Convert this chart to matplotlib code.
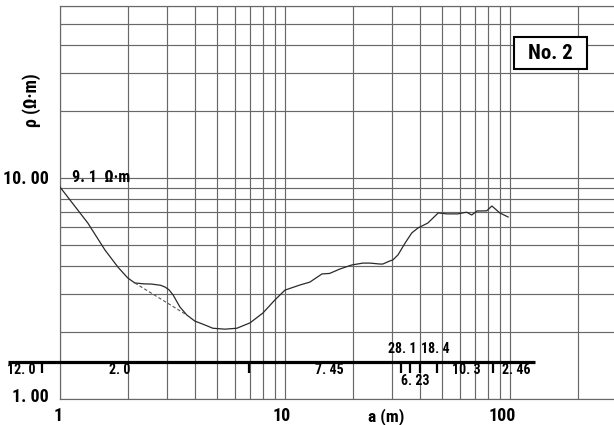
import matplotlib
matplotlib.use("Agg")
import matplotlib.pyplot as plt
import matplotlib.transforms as mtransforms
from matplotlib.ticker import LogLocator, NullFormatter, FixedLocator, FixedFormatter
from matplotlib.patches import Rectangle

# Apparent resistivity sounding curve (electrode spacing a in m, rho in ohm-m)
spacing_a = [1.00, 1.33, 1.585, 1.81, 2.00, 2.15, 2.35, 2.56, 2.80, 2.93, 3.05,
             3.18, 3.41, 3.66, 3.98, 4.32, 4.78, 5.41, 6.11, 6.99, 7.98, 9.0,
             10.0, 11.66, 12.9, 14.6, 15.8, 17.5, 19.8, 22.2, 23.9, 26.4, 27.2,
             29.2, 30.2, 31.8, 34.2, 36.6, 39.0, 43.1, 45.5, 48.0, 52.4, 58.5,
             64.2, 67.6, 71.3, 78.8, 83.1, 90.1, 98.1]
rho_app = [9.1, 6.25, 4.72, 3.95, 3.53, 3.35, 3.32, 3.31, 3.27, 3.21, 3.12,
           2.96, 2.61, 2.40, 2.25, 2.18, 2.09, 2.07, 2.09, 2.21, 2.45, 2.80,
           3.11, 3.28, 3.38, 3.68, 3.70, 3.87, 4.04, 4.12, 4.12, 4.08, 4.08,
           4.21, 4.26, 4.49, 5.08, 5.64, 5.94, 6.25, 6.59, 6.95, 6.88, 6.88,
           7.00, 6.80, 7.09, 7.10, 7.47, 6.95, 6.66]

# Smoothed segment (dashed) bridging the local bump
smooth_a = [2.15, 3.66]
smooth_rho = [3.35, 2.40]

# Interpreted layer model: resistivity of each layer and boundaries between them
layer_rho = [12.0, 2.0, 7.45, 28.1, 6.23, 18.4, 10.3, 2.46]
layer_bounds = [0.83, 6.92, 32.7, 35.8, 39.8, 47.4, 84.2]

station = "No. 2"

x_tick_vals = [1, 10, 100]
x_tick_text = ["1", "10", "100"]
y_tick_vals = [1, 10]
y_tick_text = ["1. 00", "10. 00"]

FONT = ["Roboto Condensed", "Oswald", "Archivo Narrow", "DejaVu Sans"]
GRID = "#686868"


def fmt(v):
    return str(v).replace(".", ". ")


fig = plt.figure(figsize=(6.14, 4.25), dpi=100)
W, H = 614, 425
L, B, T = 60, 399, 6
ax = fig.add_axes([L / W, 1 - B / H, (W - L) / W, (B - T) / H])
ax.set_xscale("log")
ax.set_yscale("log")
ax.set_xlim(1, 290)
ax.set_ylim(1, 60)

ax.xaxis.set_major_locator(FixedLocator(x_tick_vals))
ax.xaxis.set_major_formatter(FixedFormatter(x_tick_text))
ax.yaxis.set_major_locator(FixedLocator(y_tick_vals))
ax.yaxis.set_major_formatter(FixedFormatter(y_tick_text))
for axis in (ax.xaxis, ax.yaxis):
    axis.set_minor_locator(LogLocator(base=10, subs=range(2, 10), numticks=20))
    axis.set_minor_formatter(NullFormatter())
ax.grid(True, which="both", color=GRID, linewidth=0.85)
ax.set_axisbelow(True)
ax.tick_params(which="both", length=0)
ax.tick_params(axis="x", pad=6)
ax.tick_params(axis="y", pad=8)
for lab in ax.get_xticklabels() + ax.get_yticklabels():
    lab.set_fontfamily(FONT)
    lab.set_fontweight("bold")
    lab.set_fontsize(13)

# nudge tick labels to their printed places
x_shift = [-2, -3, -8]
for lab, dx in zip(ax.get_xticklabels(), x_shift):
    lab.set_transform(lab.get_transform() +
                      mtransforms.ScaledTranslation(dx / 100, 0, fig.dpi_scale_trans))
y_shift = [4, 1]
for lab, dy in zip(ax.get_yticklabels(), y_shift):
    lab.set_transform(lab.get_transform() +
                      mtransforms.ScaledTranslation(0, dy / 100, fig.dpi_scale_trans))

for side in ("left", "top", "bottom"):
    ax.spines[side].set_color(GRID)
    ax.spines[side].set_linewidth(0.85)
ax.spines["right"].set_visible(False)

# sounding curve
ax.plot(spacing_a, rho_app, color="#2a2a2a", linewidth=0.9, zorder=3)
ax.plot(smooth_a, smooth_rho, color="#555555", linewidth=0.8,
        linestyle=(0, (3, 2)), zorder=3)

ax.text(1.13, 10.1, fmt(rho_app[0]) + "  Ω·m", fontfamily=FONT,
        fontweight="bold", fontsize=11.5, ha="left", va="center", zorder=4)

# layer bar
bar_rho = 1.47
ax.plot([0.587, 128.9], [bar_rho, bar_rho], color="black", linewidth=2.3,
        clip_on=False, solid_capstyle="butt", zorder=4)
ax.vlines(layer_bounds, 1.31, bar_rho, colors="black", linewidth=1.6,
          clip_on=False, zorder=4)

label_x = [0.67, 1.85, 15.7, 33.3, 37.8, 46.8, 63.9, 107]
label_dy = [-6, -6, -6, 9.7, -13.7, 9.7, -6, -6]
for rho, lx, dy in zip(layer_rho, label_x, label_dy):
    ax.annotate(fmt(rho), xy=(lx, bar_rho), xytext=(0, dy),
                textcoords="offset points", ha="center", va="center",
                fontfamily=FONT, fontweight="bold", fontsize=10,
                annotation_clip=False, zorder=5)

# station box
ax.add_patch(Rectangle((0.8195, 0.8397), 0.1318, 0.0814, transform=ax.transAxes,
                       facecolor="white", edgecolor="black", linewidth=1.5,
                       zorder=5))
ax.text(0.8195 + 0.0659, 0.8397 + 0.0407, station, transform=ax.transAxes,
        ha="center", va="center", fontfamily=FONT, fontweight="bold",
        fontsize=15, zorder=6)

fig.text(32 / W, 1 - 100 / H, "ρ (Ω·m)", rotation=90, ha="center", va="center",
         fontfamily=FONT, fontweight="bold", fontsize=13)
fig.text(386 / W, 1 - 417 / H, "a (m)", ha="center", va="center",
         fontfamily=FONT, fontweight="bold", fontsize=12.5)

fig.savefig("out.png", dpi=100)
